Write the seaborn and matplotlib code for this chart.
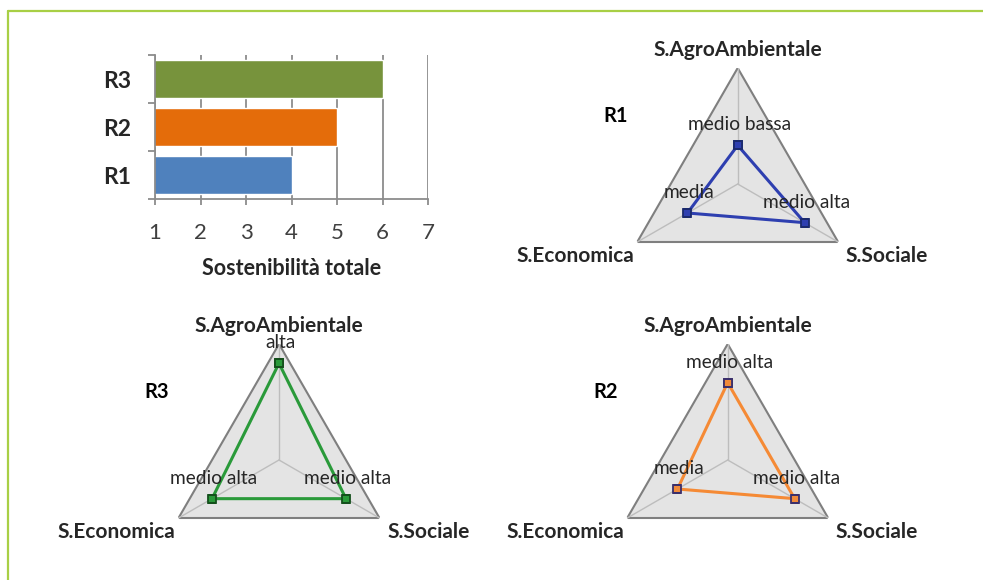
import numpy as np
import matplotlib
matplotlib.use("Agg")
import matplotlib.pyplot as plt
from matplotlib.lines import Line2D
import seaborn as sns

sns.set_theme(style="white")
plt.rcParams["font.family"] = ["Lato", "DejaVu Sans"]

# ---- data -------------------------------------------------------------
regions = ["R3", "R2", "R1"]
totals = [6, 5, 4]
bar_colors = ["#77933c", "#e46c0a", "#4f81bd"]

dimensions = ["S.AgroAmbientale", "S.Sociale", "S.Economica"]
level_scale = {"bassa": 1, "medio bassa": 2, "media": 3, "medio alta": 4, "alta": 5, "molto alta": 6}
r1_levels = ["medio bassa", "medio alta", "media"]
r2_levels = ["medio alta", "medio alta", "media"]
r3_levels = ["alta", "medio alta", "medio alta"]
scale_max = 6

W, H = 983, 580
fig = plt.figure(figsize=(W / 100, H / 100), dpi=100)
fig.patch.set_facecolor("white")

TXT = "#262626"
GRID = "#8c8c8c"

# ---- frame lines -------------------------------------------------------
border = "#a8cf45"
fig.add_artist(Line2D([8 / W, 1.0], [1 - 11 / H, 1 - 11 / H], color=border, lw=1.6))
fig.add_artist(Line2D([8 / W, 8 / W], [0.0, 1 - 11 / H], color=border, lw=1.6))


def px_rect(left, top, right, bottom):
    return [left / W, 1 - bottom / H, (right - left) / W, (bottom - top) / H]


# ---- bar chart ---------------------------------------------------------
axb = fig.add_axes(px_rect(155, 55, 428, 199))
sns.barplot(x=totals, y=regions, hue=regions, palette=bar_colors, orient="h",
            legend=False, width=0.8, ax=axb, saturation=1)
axb.set_xlim(1, 7)
axb.set_ylim(2.5, -0.5)
axb.set_xticks(range(1, 8))
axb.set_axisbelow(True)
axb.grid(axis="x", color=GRID, lw=1.3)
axb.grid(axis="y", visible=False)
for s in ["top", "right"]:
    axb.spines[s].set_visible(False)
for s in ["left", "bottom"]:
    axb.spines[s].set_color(GRID)
    axb.spines[s].set_linewidth(1.3)
axb.tick_params(axis="x", bottom=True, length=4, width=1.3, color=GRID,
                labelsize=16, labelcolor="#404040", pad=13)
axb.set_yticks([-0.5, 0.5, 1.5, 2.5], minor=True)
axb.tick_params(axis="y", which="minor", left=True, length=5, width=1.3, color=GRID)
axb.tick_params(axis="y", which="major", left=False, length=0, pad=17,
                labelsize=16.5, labelcolor=TXT)
for lab in axb.get_yticklabels():
    lab.set_fontweight("bold")
axb.set_ylabel("")
axb.set_xlabel("Sostenibilità totale", fontsize=15.5, fontweight="bold", color=TXT, labelpad=11)

# ---- radar charts ------------------------------------------------------
theta = np.linspace(0, 2 * np.pi, len(dimensions), endpoint=False)
RAD = 116


def radar(cx, cy, name, levels, line_color, face, edge):
    ax = fig.add_axes(px_rect(cx - RAD, cy - RAD, cx + RAD, cy + RAD), projection="polar")
    ax.set_theta_offset(np.pi / 2)
    ax.set_theta_direction(-1)
    ax.set_ylim(0, scale_max)
    ax.grid(False)
    ax.spines["polar"].set_visible(False)
    ax.patch.set_visible(False)
    ax.set_xticks([])
    ax.set_yticks([])

    # triangular background and spokes
    ax.fill(theta, [scale_max] * len(theta), facecolor="#e4e4e4",
            edgecolor="#7f7f7f", lw=1.5, zorder=1)
    for t in theta:
        ax.plot([t, t], [0, scale_max], color="#bdbdbd", lw=1.0, zorder=2)

    vals = [level_scale[l] for l in levels]
    th_c = list(theta) + [theta[0] + 2 * np.pi]
    v_c = vals + [vals[0]]
    sns.lineplot(x=th_c, y=v_c, sort=False, estimator=None, ax=ax,
                 color=line_color, lw=2.2, marker="s", markersize=6,
                 markerfacecolor=face, markeredgecolor=edge, markeredgewidth=1.3,
                 zorder=3)

    # dimension names
    offsets = [(0, 18), (49, -14.5), (-62, -14.5)]
    for t, lab, off in zip(theta, dimensions, offsets):
        ax.annotate(lab, xy=(t, scale_max), xytext=off, textcoords="offset pixels",
                    ha="center", va="center", fontsize=15, fontweight="bold",
                    color=TXT, annotation_clip=False)
    # level labels
    for t, v, lab in zip(theta, vals, levels):
        ax.annotate(lab, xy=(t, v), xytext=(2, 20.5), textcoords="offset pixels",
                    ha="center", va="center", fontsize=13.8, color=TXT,
                    annotation_clip=False, zorder=4)
    ax.annotate(name, xy=(0, 0), xytext=(-122, 68.5), textcoords="offset pixels",
                ha="center", va="center", fontsize=14.5, fontweight="bold",
                color="black", annotation_clip=False)
    ax.set_xlabel("")
    ax.set_ylabel("")


radar(737.7, 184, "R1", r1_levels, "#2e3fb0", "#2e3fb0", "#1b2a6e")
radar(279, 460, "R3", r3_levels, "#2a9a3a", "#2a9a3a", "#14501c")
radar(727.7, 460, "R2", r2_levels, "#f58a35", "#f08a3a", "#3b2f6b")

fig.savefig("out.png", dpi=100)
